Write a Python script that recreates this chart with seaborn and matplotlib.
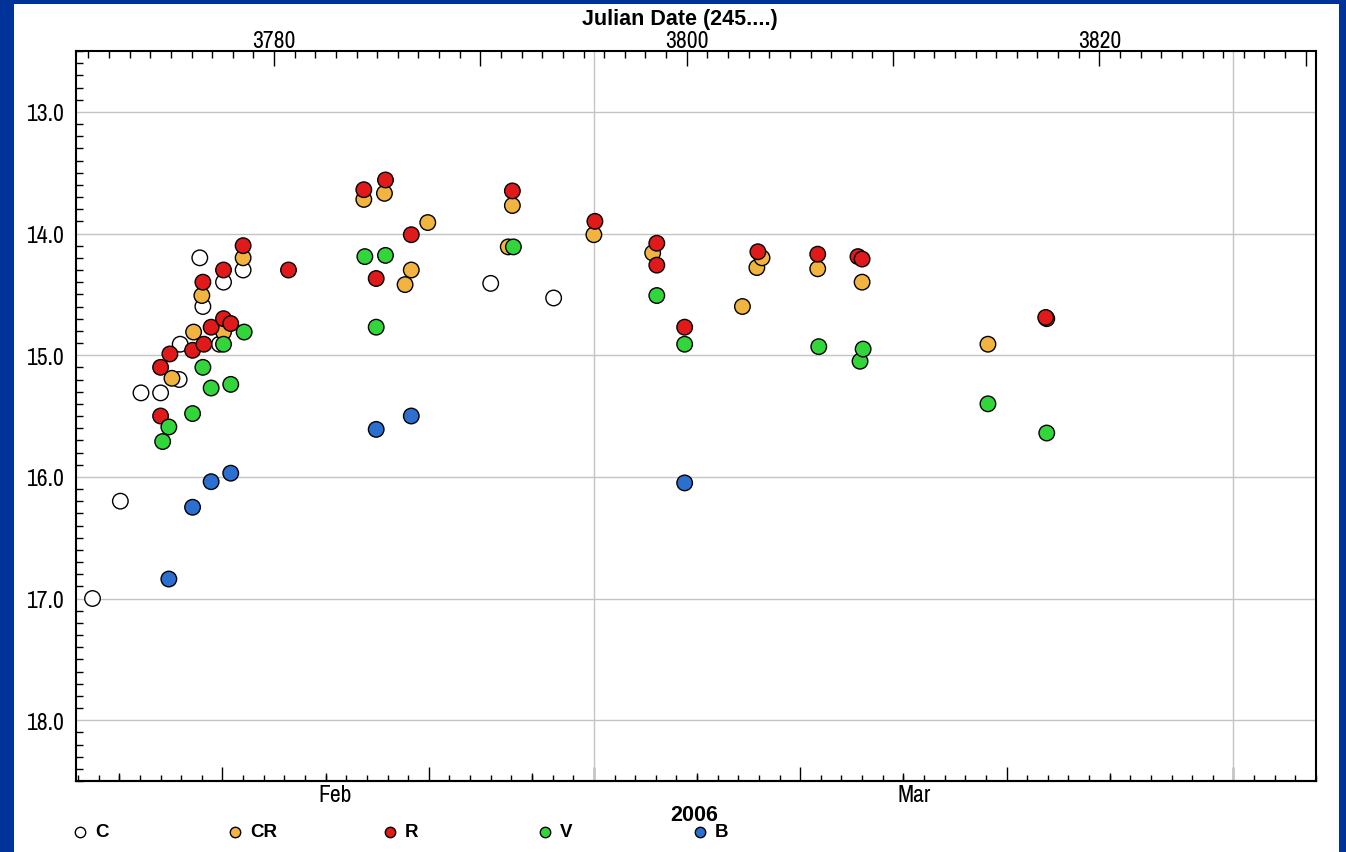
import numpy as np
import pandas as pd
import matplotlib
matplotlib.use('Agg')
import matplotlib.pyplot as plt
import seaborn as sns
from matplotlib import font_manager
from matplotlib.lines import Line2D
from matplotlib.patches import Rectangle
from matplotlib.ticker import MultipleLocator, FixedLocator, FuncFormatter, NullFormatter

# ---------------- data (JD - 2450000 ... shown as 245....) ----------------
c_jd = [3771.2, 3772.55, 3773.55, 3774.5, 3775.4, 3775.45, 3776.4, 3776.55, 3777.35, 3777.55, 3778.5, 3790.5, 3793.55]
c_mag = [17.00, 16.20, 15.31, 15.31, 15.20, 14.91, 14.20, 14.60, 14.91, 14.40, 14.30, 14.41, 14.53]

cr_jd = [3775.05, 3776.1, 3776.5, 3777.55, 3778.5, 3784.35, 3785.35, 3786.35, 3786.65, 3787.45, 3791.35,
         3791.55, 3795.5, 3798.35, 3802.7, 3803.4, 3803.65, 3806.35, 3808.5, 3814.6, 3817.45]
cr_mag = [15.19, 14.81, 14.51, 14.81, 14.20, 13.72, 13.67, 14.42, 14.30, 13.91, 14.11,
          13.77, 14.01, 14.16, 14.60, 14.28, 14.20, 14.29, 14.40, 14.91, 14.70]

r_jd = [3774.5, 3774.5, 3774.95, 3776.05, 3776.55, 3776.6, 3776.95, 3777.55, 3777.55, 3777.9, 3778.5, 3780.7,
        3784.35, 3784.95, 3785.4, 3786.65, 3791.55, 3795.55, 3798.55, 3798.55, 3799.9, 3803.45, 3806.35,
        3808.3, 3808.5, 3817.4]
r_mag = [15.50, 15.10, 14.99, 14.96, 14.40, 14.91, 14.77, 14.30, 14.70, 14.74, 14.10, 14.30,
         13.64, 14.37, 13.56, 14.01, 13.65, 13.90, 14.08, 14.26, 14.77, 14.15, 14.17,
         14.19, 14.21, 14.69]

v_jd = [3774.6, 3774.9, 3776.05, 3776.55, 3776.95, 3777.55, 3777.9, 3778.55, 3784.4, 3784.95, 3785.4,
        3791.6, 3798.55, 3799.9, 3806.4, 3808.4, 3808.55, 3814.6, 3817.45]
v_mag = [15.71, 15.59, 15.48, 15.10, 15.27, 14.91, 15.24, 14.81, 14.19, 14.77, 14.18,
         14.11, 14.51, 14.91, 14.93, 15.05, 14.95, 15.40, 15.64]

b_jd = [3774.9, 3776.05, 3776.95, 3777.9, 3784.95, 3786.65, 3799.9]
b_mag = [16.84, 16.25, 16.04, 15.97, 15.61, 15.50, 16.05]

bands = ['C', 'CR', 'R', 'V', 'B']
band_colors = ['#ffffff', '#f2b441', '#e01a1a', '#33d63a', '#2b6fd0']

month_start_jd = [3767.5, 3795.5, 3826.5]      # Feb 1, Mar 1, Apr 1 2006
month_names = ['Feb', 'Mar']
year_label = '2006'
title = 'Julian Date (245....)'
jd_labels = [3780, 3800, 3820]

# ---------------- fonts ----------------
sns.set_theme(style='white')
fonts = font_manager.fontManager.ttflist
narrow_names = sorted({f.name for f in fonts if ('Narrow' in f.name or 'Condensed' in f.name)})
REG = [narrow_names[0], 'DejaVu Sans'] if narrow_names else ['DejaVu Sans']
BOLD = ['Liberation Sans', 'DejaVu Sans']
plt.rcParams['font.family'] = REG
FS = 17 if narrow_names else 13

W, H = 1346, 853
fig = plt.figure(figsize=(W / 100, H / 100), dpi=100)
fig.patch.set_facecolor('#003399')
fig.add_artist(Rectangle((14 / W, 0), (1339 - 14) / W, (853 - 5) / H, transform=fig.transFigure,
                         facecolor='white', edgecolor='none', zorder=0))

ax = fig.add_axes([76 / W, 1 - 782 / H, (1316 - 76) / W, (782 - 52) / H])
ax.set_facecolor('white')

df = pd.concat([
    pd.DataFrame({'jd': c_jd, 'mag': c_mag, 'band': 'C'}),
    pd.DataFrame({'jd': cr_jd, 'mag': cr_mag, 'band': 'CR'}),
    pd.DataFrame({'jd': r_jd, 'mag': r_mag, 'band': 'R'}),
    pd.DataFrame({'jd': v_jd, 'mag': v_mag, 'band': 'V'}),
    pd.DataFrame({'jd': b_jd, 'mag': b_mag, 'band': 'B'}),
], ignore_index=True)

palette = dict(zip(bands, band_colors))
sns.scatterplot(data=df, x='jd', y='mag', hue='band', palette=palette, hue_order=bands,
                s=125, edgecolor='black', linewidth=1.0, legend=False, ax=ax, zorder=3)

ax.set_xlim(3770.4, 3830.5)
ax.set_ylim(18.5, 12.5)
ax.set_xlabel('')
ax.set_ylabel('')

# grid
for m in [13, 14, 15, 16, 17, 18]:
    ax.axhline(m, color='#c4c4c4', lw=1.0, zorder=1)
for j in month_start_jd[1:]:
    ax.axvline(j, color='#c4c4c4', lw=1.0, zorder=1)

for sp in ax.spines.values():
    sp.set_color('black')
    sp.set_linewidth(1.5)
    sp.set_visible(True)

# y axis
ax.yaxis.set_major_locator(MultipleLocator(1.0))
ax.yaxis.set_minor_locator(MultipleLocator(0.1))
ax.yaxis.set_major_formatter(FuncFormatter(lambda v, p: f'{v:.1f}'))
ax.tick_params(axis='y', which='major', direction='in', length=0, pad=8, labelsize=FS,
               left=True, right=False, colors='black')
ax.tick_params(axis='y', which='minor', direction='in', length=5, width=1, left=True, right=False, color='black')

# top (Julian date) axis
ax.xaxis.set_ticks_position('top')
ax.xaxis.set_label_position('top')
ax.xaxis.set_major_locator(MultipleLocator(10))
ax.xaxis.set_minor_locator(MultipleLocator(1))
ax.xaxis.set_major_formatter(FuncFormatter(lambda v, p: f'{int(round(v))}' if int(round(v)) in jd_labels else ''))
ax.tick_params(axis='x', which='major', direction='in', length=11, width=1, pad=0, labelsize=FS,
               top=True, bottom=False, labeltop=True, labelbottom=False, colors='black')
ax.tick_params(axis='x', which='minor', direction='in', length=5, width=1, top=True, bottom=False, color='black')

# bottom (calendar) axis
day_ticks = np.arange(3768.5, 3831.0, 1.0)
def dom(j):
    start = max(s for s in month_start_jd if s <= j + 1e-6)
    return int(round(j - start)) + 1
long_ticks = [j for j in day_ticks if dom(j) in (1, 11, 21)]
mid_ticks = [j for j in day_ticks if dom(j) in (6, 16, 26)]

sec = ax.secondary_xaxis('bottom')
sec.xaxis.set_major_locator(FixedLocator(long_ticks))
sec.xaxis.set_minor_locator(FixedLocator(list(day_ticks)))
sec.xaxis.set_major_formatter(NullFormatter())
sec.tick_params(which='major', direction='in', length=10, width=1, color='black')
sec.tick_params(which='minor', direction='in', length=4, width=1, color='black')
sec.spines['bottom'].set_linewidth(1.5)
sec.spines['bottom'].set_color('black')

sec2 = ax.secondary_xaxis('bottom')
sec2.xaxis.set_major_locator(FixedLocator(mid_ticks))
sec2.xaxis.set_minor_locator(FixedLocator([]))
sec2.xaxis.set_major_formatter(NullFormatter())
sec2.tick_params(which='major', direction='in', length=6, width=1, color='black')
sec2.spines['bottom'].set_visible(False)

xmin, xmax = ax.get_xlim()
for i, name in enumerate(month_names):
    a = max(month_start_jd[i], xmin)
    b = min(month_start_jd[i + 1], xmax)
    ax.text((a + b) / 2, -0.004, name, transform=ax.get_xaxis_transform(), ha='center', va='top',
            fontsize=FS, color='black')

fig.text(694 / W, 1 - 816 / H, year_label, ha='center', va='center',
         fontsize=15.5, fontweight='bold', family=BOLD, color='black')

fig.text(680 / W, 1 - 20 / H, title, ha='center', va='center', fontsize=15.5, fontweight='bold',
         family=BOLD, color='black')

# legend
for i, (b, col) in enumerate(zip(bands, band_colors)):
    x0 = (80 + i * 155) / W
    y0 = 1 - 833 / H
    fig.add_artist(Line2D([x0], [y0], marker='o', markersize=7.5, markerfacecolor=col,
                          markeredgecolor='black', markeredgewidth=1, linestyle='none',
                          transform=fig.transFigure))
    fig.text(x0 + 15 / W, y0, b, ha='left', va='center', fontsize=13.5, fontweight='bold',
             family=BOLD, color='black')

fig.savefig('out.png', dpi=100, facecolor=fig.get_facecolor())
